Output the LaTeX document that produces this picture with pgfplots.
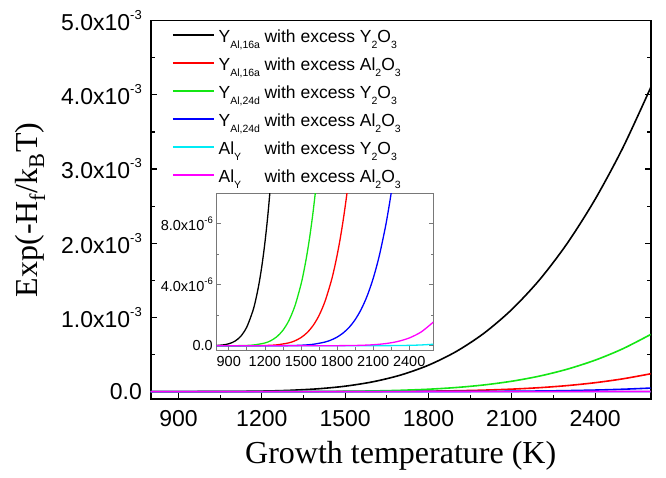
\documentclass[border=0pt]{standalone}
\usepackage{pgfplots}
\usepackage{pgfplotstable}
\pgfplotsset{compat=1.18}
\usepackage{fontspec}
\setmainfont{Liberation Sans}
\newfontfamily\seriffont{Liberation Serif}
\definecolor{cred}{RGB}{255,0,0}
\definecolor{cgreen}{RGB}{20,230,20}
\definecolor{cblue}{RGB}{0,0,255}
\definecolor{ccyan}{RGB}{0,235,245}
\definecolor{cmag}{RGB}{255,0,255}
\definecolor{insetgray}{RGB}{120,120,120}
\newcommand{\lsub}[1]{\raisebox{-6pt}{\fontsize{10.5}{10.5}\selectfont #1}}
\newcommand{\sci}[2]{#1x10\raisebox{11pt}{\fontsize{13}{13}\selectfont -#2}}
\newcommand{\scis}[2]{#1x10\raisebox{7pt}{\fontsize{9.5}{9.5}\selectfont -#2}}

\pgfplotstableread{
T y
800 1.74e-8
850 4.98e-8
900 1.268e-7
950 2.924e-7
1000 6.20e-7
1050 1.226e-6
1100 2.274e-6
1125 3.036e-6
1150 4.001e-6
1175 5.214e-6
1200 6.72e-6
1225 8.56e-6
1250 1.082e-5
1275 1.354e-5
1300 1.678e-5
1400 3.684e-5
1500 7.27e-5
1600 1.320e-4
1700 2.231e-4
1800 3.558e-4
1900 5.405e-4
2000 7.872e-4
2100 1.107e-3
2200 1.508e-3
2300 2.001e-3
2400 2.593e-3
2500 3.289e-3
2600 4.099e-3
}\dataA

\pgfplotstableread{
T y
800 1.72e-12
900 3.488e-11
1000 3.876e-10
1100 2.780e-9
1200 1.436e-8
1300 5.757e-8
1400 1.895e-7
1450 3.229e-7
1500 5.317e-7
1550 8.473e-7
1600 1.312e-6
1650 1.977e-6
1700 2.908e-6
1750 4.189e-6
1775 4.985e-6
1800 5.909e-6
1825 6.962e-6
1850 8.178e-6
1875 9.559e-6
1900 1.1127e-5
1950 1.4916e-5
2000 1.968e-5
2100 3.297e-5
2200 5.274e-5
2300 8.091e-5
2400 1.1975e-4
2500 1.7205e-4
2600 2.400e-4
}\dataB

\pgfplotstableread{
T y
800 7.60e-11
900 1.012e-9
1000 8.03e-9
1100 4.373e-8
1200 1.795e-7
1250 3.340e-7
1300 5.930e-7
1350 1.008e-6
1400 1.651e-6
1450 2.613e-6
1500 4.009e-6
1525 4.916e-6
1550 5.986e-6
1575 7.246e-6
1600 8.718e-6
1625 1.0427e-5
1650 1.241e-5
1700 1.730e-5
1800 3.180e-5
1900 5.484e-5
2000 8.960e-5
2100 1.397e-4
2200 2.090e-4
2300 3.024e-4
2400 4.235e-4
2500 5.780e-4
2600 7.701e-4
}\dataC

\pgfplotstableread{
T y
800 8.7e-15
900 3.18e-13
1000 5.65e-12
1100 5.95e-11
1200 4.233e-10
1300 2.226e-9
1400 9.237e-9
1500 3.170e-8
1600 9.322e-8
1700 2.418e-7
1750 3.736e-7
1800 5.636e-7
1850 8.315e-7
1900 1.201e-6
1950 1.705e-6
2000 2.376e-6
2050 3.259e-6
2100 4.404e-6
2150 5.862e-6
2200 7.709e-6
2225 8.806e-6
2250 1.0018e-5
2275 1.1364e-5
2300 1.2864e-5
2400 2.056e-5
2500 3.168e-5
2600 4.715e-5
}\dataD

\pgfplotstableread{
T y
800 1.6e-23
1000 5.7e-19
1200 6.3e-16
1500 6.9e-13
1600 3.98e-12
1800 7.35e-11
2000 7.58e-10
2100 2.061e-9
2200 5.12e-9
2300 1.173e-8
2400 2.51e-8
2500 5.05e-8
2600 9.64e-8
}\dataE

\pgfplotstableread{
T y
800 1.3e-19
1000 7.8e-16
1200 2.59e-13
1400 1.62e-11
1600 3.63e-10
1700 1.30e-9
1800 4.06e-9
1900 1.123e-8
2000 2.803e-8
2100 6.414e-8
2200 1.362e-7
2300 2.708e-7
2400 5.084e-7
2500 9.078e-7
2600 1.550e-6
}\dataF

\begin{document}
\begin{tikzpicture}
\useasboundingbox (0pt,0pt) rectangle (666pt,478pt);
\begin{axis}[
  at={(150.7pt,79pt)}, anchor=south west,
  scale only axis, width=500pt, height=378.3pt,
  xmin=800, xmax=2600, ymin=-0.0001, ymax=0.005,
  xtick={900,1200,1500,1800,2100,2400},
  xticklabels={900,1200,1500,1800,2100,2400},
  ytick={0,0.001,0.002,0.003,0.004,0.005},
  yticklabels={0.0,\sci{1.0}{3},\sci{2.0}{3},\sci{3.0}{3},\sci{4.0}{3},\sci{5.0}{3}},
  minor x tick num=1, minor y tick num=1,
  xtick pos=bottom, ytick pos=both,
  tick align=inside,
  major tick length=6pt, minor tick length=4pt,
  every tick/.style={black, line width=1.2pt},
  axis line style={line width=1.6pt},
  scaled y ticks=false, scaled x ticks=false,
  tick label style={font=\fontsize{23}{23}\selectfont, inner sep=0pt},
  xticklabel style={anchor=north, yshift=-11pt},
  yticklabel style={anchor=east, xshift=-8.7pt},
  xlabel={\seriffont Growth temperature (K)},
  ylabel={\seriffont Exp(-H\textsubscript{f}/k\textsubscript{B}T)},
  xlabel style={at={(axis description cs:0.5,-0.1692)}, anchor=base, font=\fontsize{32}{32}\selectfont},
  ylabel style={at={(axis description cs:-0.2254,0.5)}, anchor=base, font=\fontsize{32}{32}\selectfont},
  legend cell align=left,
  legend style={draw=none, fill=none, at={(rel axis cs:0.0426,0.9868)}, anchor=north west,
    inner sep=0pt, outer sep=0pt, row sep=4pt, column sep=4pt,
    font=\fontsize{17.5}{17.5}\selectfont,
    nodes={inner sep=0pt, text depth=7pt, text height=17pt}},
  legend image code/.code={\draw[#1] (0pt,2.5pt) -- (41pt,2.5pt);},
]
\addplot[black, line width=1.6pt, smooth] table[x=T,y=y] {\dataA};
\addlegendentry{\makebox[46pt][l]{Y\lsub{Al,16a}}with excess Y\lsub{2}O\lsub{3}}
\addplot[cred, line width=1.6pt, smooth] table[x=T,y=y] {\dataB};
\addlegendentry{\makebox[46pt][l]{Y\lsub{Al,16a}}with excess Al\lsub{2}O\lsub{3}}
\addplot[cgreen, line width=1.6pt, smooth] table[x=T,y=y] {\dataC};
\addlegendentry{\makebox[46pt][l]{Y\lsub{Al,24d}}with excess Y\lsub{2}O\lsub{3}}
\addplot[cblue, line width=1.6pt, smooth] table[x=T,y=y] {\dataD};
\addlegendentry{\makebox[46pt][l]{Y\lsub{Al,24d}}with excess Al\lsub{2}O\lsub{3}}
\addplot[ccyan, line width=1.6pt, smooth] table[x=T,y=y] {\dataE};
\addlegendentry{\makebox[46pt][l]{Al\lsub{Y}}with excess Y\lsub{2}O\lsub{3}}
\addplot[cmag, line width=1.6pt, smooth] table[x=T,y=y] {\dataF};
\addlegendentry{\makebox[46pt][l]{Al\lsub{Y}}with excess Al\lsub{2}O\lsub{3}}
\end{axis}

\begin{axis}[
  at={(216.7pt,128pt)}, anchor=south west,
  scale only axis, width=216.6pt, height=156.7pt,
  xmin=800, xmax=2600, ymin=-2.8e-7, ymax=1e-5,
  xtick={900,1200,1500,1800,2100,2400},
  xticklabels={900,1200,1500,1800,2100,2400},
  ytick={0,4e-6,8e-6},
  yticklabels={0.0,\scis{4.0}{6},\scis{8.0}{6}},
  minor x tick num=1, minor y tick num=1,
  xtick pos=bottom, ytick pos=both,
  tick align=inside,
  major tick length=4pt, minor tick length=2.5pt,
  every tick/.style={insetgray, line width=0.6pt},
  axis line style={insetgray, line width=0.8pt},
  scaled y ticks=false, scaled x ticks=false,
  tick label style={font=\fontsize{14.5}{14.5}\selectfont, inner sep=0pt},
  xticklabel style={anchor=north, yshift=-5.7pt},
  yticklabel style={anchor=east, xshift=-3.7pt},
  restrict y to domain=-1e-5:2e-5,
]
\addplot[black, line width=1.3pt, smooth] table[x=T,y=y] {\dataA};
\addplot[cred, line width=1.3pt, smooth] table[x=T,y=y] {\dataB};
\addplot[cgreen, line width=1.3pt, smooth] table[x=T,y=y] {\dataC};
\addplot[cblue, line width=1.3pt, smooth] table[x=T,y=y] {\dataD};
\addplot[ccyan, line width=1.3pt, smooth] table[x=T,y=y] {\dataE};
\addplot[cmag, line width=1.3pt, smooth] table[x=T,y=y] {\dataF};
\end{axis}
\end{tikzpicture}
\end{document}
